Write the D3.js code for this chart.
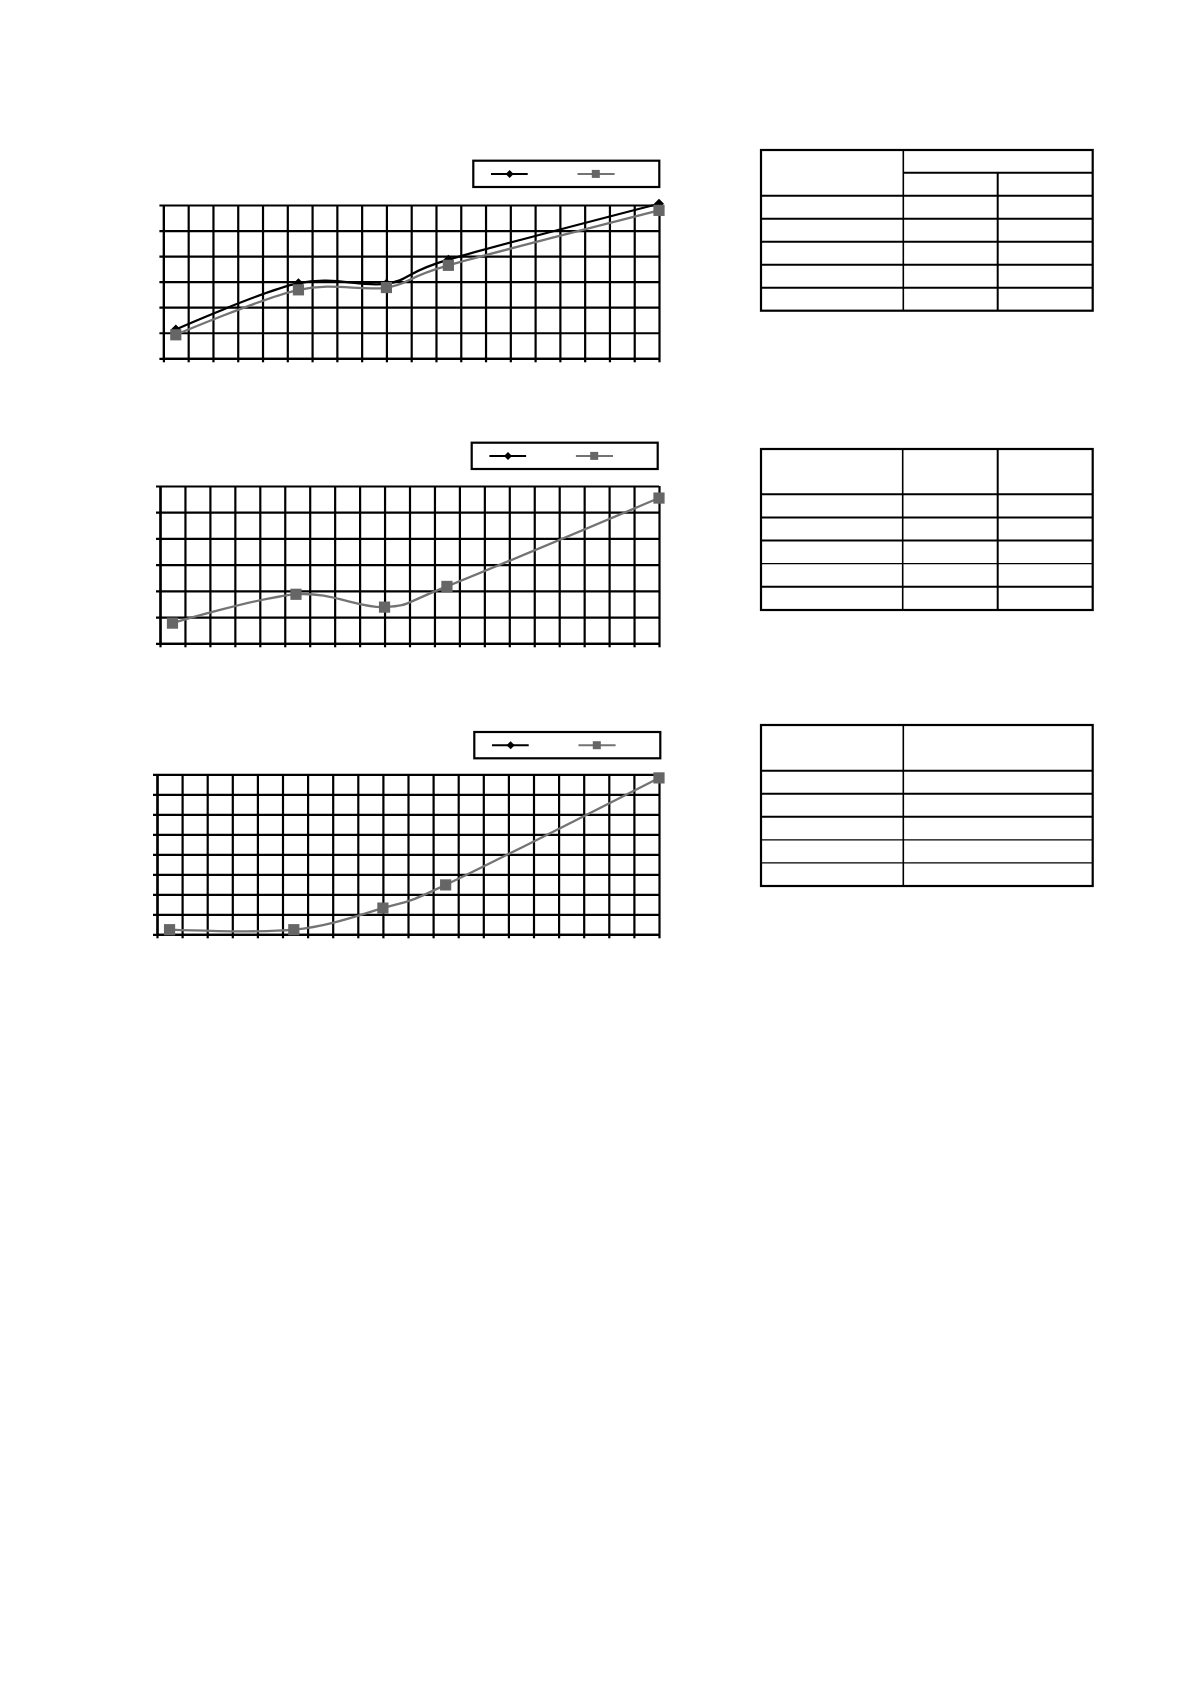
<!DOCTYPE html>
<html lang="en">
<head>
  <meta charset="UTF-8">
  <title>Charts and tables</title>
  <script src="https://d3js.org/d3.v7.min.js"></script>
  <style>
    body { margin: 0; background: #fff; }
    .grid line, .grid path { stroke: #000; stroke-width: 2.2px; }
    .grid text { display: none; }
    .cell { stroke: #000; fill: none; }
  </style>
</head>
<body>
  <svg id="page" width="1190" height="1684"></svg>

  <script>
    // shared x positions of the measuring points
    const xValues = [0.5, 5.45, 9, 11.5, 20];

    // chart 1 – both series visible
    const chart1Black = [1.13, 2.94, 2.92, 3.86, 6.05];
    const chart1Gray  = [0.92, 2.68, 2.77, 3.64, 5.79];
    // chart 2 – only the grey series is drawn
    const chart2Black = [];
    const chart2Gray  = [0.77, 1.87, 1.38, 2.17, 5.54];
    // chart 3 – only the grey series is drawn
    const chart3Black = [];
    const chart3Gray  = [0.23, 0.23, 1.31, 2.47, 7.82];

    const xMax = 20;
    const yMaxes = [6, 6, 8];

    // number of body rows in each table
    const tableBodyRows = [5, 5, 5];

    const svg = d3.select("#page");

    const charts = [
      { left: 163.4, top: 205, w: 495.6, h: 153.3, legend: [473.3, 160.7], black: chart1Black, gray: chart1Gray, yMax: yMaxes[0] },
      { left: 160, top: 486, w: 499, h: 157.3, legend: [471.7, 442.7], black: chart2Black, gray: chart2Gray, yMax: yMaxes[1] },
      { left: 157, top: 774.3, w: 502, h: 160, legend: [474.3, 732], black: chart3Black, gray: chart3Gray, yMax: yMaxes[2] }
    ];

    function diamond(r) {
      return `M0,${-r}L${r},0L0,${r}L${-r},0Z`;
    }

    charts.forEach(c => {
      const g = svg.append("g").attr("transform", `translate(${c.left},${c.top})`);
      const x = d3.scaleLinear().domain([0, xMax]).range([0, c.w]);
      const y = d3.scaleLinear().domain([0, c.yMax]).range([c.h, 0]);

      // grid via axes (ticks stretched across plot)
      const gx = g.append("g").attr("class", "grid")
        .attr("transform", `translate(0,${c.h})`)
        .call(d3.axisBottom(x).ticks(xMax).tickSizeInner(-c.h).tickSizeOuter(0));
      gx.selectAll(".tick line").attr("y1", 4);

      const gy = g.append("g").attr("class", "grid")
        .call(d3.axisLeft(y).ticks(c.yMax).tickSizeInner(-c.w).tickSizeOuter(0));
      gy.selectAll(".tick line").attr("x1", -4);

      const line = d3.line()
        .x((d, i) => x(xValues[i]))
        .y(d => y(d))
        .curve(d3.curveCardinal.tension(0));

      if (c.black.length) {
        g.append("path").datum(c.black)
          .attr("d", line).attr("fill", "none")
          .attr("stroke", "#000").attr("stroke-width", 2.2);
        g.selectAll(".dia").data(c.black).enter().append("path")
          .attr("class", "dia")
          .attr("transform", (d, i) => `translate(${x(xValues[i])},${y(d)})`)
          .attr("d", diamond(5)).attr("fill", "#000");
      }

      g.append("path").datum(c.gray)
        .attr("d", line).attr("fill", "none")
        .attr("stroke", "#737373").attr("stroke-width", 2.3);
      g.selectAll(".sq").data(c.gray).enter().append("rect")
        .attr("class", "sq")
        .attr("x", (d, i) => x(xValues[i]) - 5.6)
        .attr("y", d => y(d) - 5.6)
        .attr("width", 11.2).attr("height", 11.2)
        .attr("fill", "#666");

      // legend
      const lg = svg.append("g").attr("transform", `translate(${c.legend[0]},${c.legend[1]})`);
      lg.append("rect").attr("width", 186).attr("height", 26.3)
        .attr("fill", "#fff").attr("stroke", "#000").attr("stroke-width", 2.2);
      const my = 13.2;
      lg.append("line").attr("x1", 17.7).attr("x2", 54.4).attr("y1", my).attr("y2", my)
        .attr("stroke", "#000").attr("stroke-width", 2);
      lg.append("path").attr("transform", `translate(36.3,${my})`).attr("d", diamond(4)).attr("fill", "#000");
      lg.append("line").attr("x1", 104.2).attr("x2", 141.3).attr("y1", my).attr("y2", my)
        .attr("stroke", "#737373").attr("stroke-width", 2);
      lg.append("rect").attr("x", 122.5 - 4).attr("y", my - 4).attr("width", 8).attr("height", 8).attr("fill", "#666");
    });

    // tables (empty cells)
    const tables = [
      { top: 150, headBottom: 195.7, bottom: 310.7, cols: [903.3, 997.7], split: 172.7, thin: [] },
      { top: 449, headBottom: 494.3, bottom: 610, cols: [902.7, 997.7], split: null, thin: [3] },
      { top: 725, headBottom: 770.7, bottom: 886, cols: [903.3], split: null, thin: [3, 4] }
    ];
    const tLeft = 761, tRight = 1092.7;

    tables.forEach((t, ti) => {
      const g = svg.append("g");
      const n = tableBodyRows[ti];
      const rowY = d3.scaleLinear().domain([0, n]).range([t.headBottom, t.bottom]);

      g.append("rect").attr("class", "cell")
        .attr("x", tLeft).attr("y", t.top)
        .attr("width", tRight - tLeft).attr("height", t.bottom - t.top)
        .attr("stroke-width", 2.2);

      // body row lines
      g.selectAll(".row").data(d3.range(0, n)).enter().append("line")
        .attr("class", "cell")
        .attr("x1", tLeft).attr("x2", tRight)
        .attr("y1", d => rowY(d)).attr("y2", d => rowY(d))
        .attr("stroke-width", d => t.thin.includes(d) ? 1.2 : 2);

      // first column divider always full height
      g.append("line").attr("class", "cell")
        .attr("x1", t.cols[0]).attr("x2", t.cols[0])
        .attr("y1", t.top).attr("y2", t.bottom).attr("stroke-width", 1.6);

      if (t.cols.length > 1) {
        g.append("line").attr("class", "cell")
          .attr("x1", t.cols[1]).attr("x2", t.cols[1])
          .attr("y1", t.split ? t.split : t.top).attr("y2", t.bottom).attr("stroke-width", 2);
      }
      if (t.split) {
        g.append("line").attr("class", "cell")
          .attr("x1", t.cols[0]).attr("x2", tRight)
          .attr("y1", t.split).attr("y2", t.split).attr("stroke-width", 2);
      }
    });
  </script>
</body>
</html>
